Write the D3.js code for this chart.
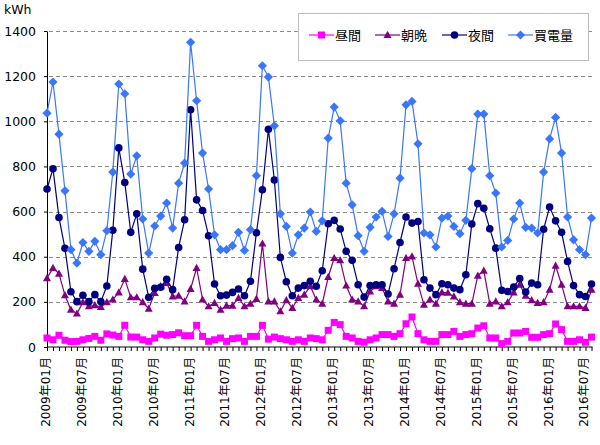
<!DOCTYPE html>
<html><head><meta charset="utf-8">
<script src="https://cdn.jsdelivr.net/npm/d3@7"></script>
<style>body{margin:0;background:#fff}svg{display:block}text{font-family:"DejaVu Sans","Noto Sans CJK JP",sans-serif}</style>
</head><body><svg width="600" height="445"></svg>
<script>
const months = [
"2009年01月","2009年02月","2009年03月","2009年04月","2009年05月","2009年06月","2009年07月","2009年08月","2009年09月","2009年10月","2009年11月","2009年12月",
"2010年01月","2010年02月","2010年03月","2010年04月","2010年05月","2010年06月","2010年07月","2010年08月","2010年09月","2010年10月","2010年11月","2010年12月",
"2011年01月","2011年02月","2011年03月","2011年04月","2011年05月","2011年06月","2011年07月","2011年08月","2011年09月","2011年10月","2011年11月","2011年12月",
"2012年01月","2012年02月","2012年03月","2012年04月","2012年05月","2012年06月","2012年07月","2012年08月","2012年09月","2012年10月","2012年11月","2012年12月",
"2013年01月","2013年02月","2013年03月","2013年04月","2013年05月","2013年06月","2013年07月","2013年08月","2013年09月","2013年10月","2013年11月","2013年12月",
"2014年01月","2014年02月","2014年03月","2014年04月","2014年05月","2014年06月","2014年07月","2014年08月","2014年09月","2014年10月","2014年11月","2014年12月",
"2015年01月","2015年02月","2015年03月","2015年04月","2015年05月","2015年06月","2015年07月","2015年08月","2015年09月","2015年10月","2015年11月","2015年12月",
"2016年01月","2016年02月","2016年03月","2016年04月","2016年05月","2016年06月","2016年07月","2016年08月"];
const tickLabels = ["2009年01月","2009年07月","2010年01月","2010年07月","2011年01月","2011年07月","2012年01月","2012年07月","2013年01月","2013年07月","2014年01月","2014年07月","2015年01月","2015年07月","2016年01月","2016年07月"];
const yTicks = [0,200,400,600,800,1000,1200,1400];
const seriesNames = ["昼間","朝晩","夜間","買電量"];

const daytime = [40,32,52,30,24,25,32,38,47,30,58,53,
47,96,44,44,32,25,40,57,52,55,63,50,
50,96,47,25,32,40,25,37,40,25,47,47,
96,35,44,37,32,25,32,25,40,37,32,74,
109,99,47,40,25,21,32,40,55,55,47,59,
103,133,59,32,25,25,55,55,69,47,55,59,
84,94,40,40,15,25,62,62,69,43,43,55,
59,102,77,25,25,32,21,44];
const morningEvening = [305,350,325,229,165,148,198,180,185,177,198,210,
242,301,220,220,198,170,239,269,283,224,227,202,
257,350,210,180,195,165,183,183,217,180,192,213,
458,202,202,158,207,173,217,232,269,210,192,310,
394,384,272,210,202,180,246,269,261,202,192,232,
394,401,280,187,210,192,242,240,224,198,192,192,
316,338,192,202,180,198,242,276,227,207,195,198,
254,360,276,180,180,180,173,254];
const night = [700,790,574,437,245,201,229,201,232,201,270,517,
882,729,508,590,345,220,260,265,300,254,441,564,
1051,652,605,493,279,227,230,242,257,227,291,506,
697,965,740,397,289,227,261,272,291,269,338,546,
561,523,424,384,276,221,272,276,276,235,347,463,
576,549,556,298,261,232,280,276,261,254,320,545,
635,615,524,438,251,246,266,303,244,283,276,522,
620,559,508,379,272,232,224,279];
const purchased = [1036,1174,943,692,431,372,463,424,468,409,515,775,
1165,1122,766,847,567,416,536,580,638,527,726,815,
1350,1091,859,700,497,431,431,449,508,428,520,759,
1246,1196,980,590,534,416,497,527,598,512,559,925,
1063,1002,726,630,493,424,530,576,601,490,590,748,
1073,1088,900,505,497,443,571,580,534,502,561,790,
1032,1032,759,682,443,472,567,638,530,527,505,775,
922,1017,859,576,475,431,409,571];

const seriesData = [daytime, morningEvening, night, purchased];
const colors = ["#ff00ff","#800080","#000080","#3a76f8"];
const markers = [
  "M-3.5,-3.5H3.5V3.5H-3.5Z",
  "M0,-4.2L4,3L-4,3Z",
  "M0,-3.8A3.8,3.8 0 1,1 0,3.8A3.8,3.8 0 1,1 0,-3.8Z",
  "M0,-4.6L4.6,0L0,4.6L-4.6,0Z"
];

const svg = d3.select("svg");
const L = 47, R = 591.5, T = 31, B = 347, GRID_END = 593;
const x = d3.scalePoint().domain(months).range([L, R]);
const y = d3.scaleLinear().domain([0, 1400]).range([B, T]);

// y axis
const yAxis = svg.append("g").attr("transform", `translate(${L},0)`)
  .call(d3.axisLeft(y).tickValues(yTicks).tickFormat(d3.format("d")).tickSize(3).tickSizeOuter(0).tickPadding(8));
yAxis.select(".domain").attr("stroke", "#000");
yAxis.selectAll(".tick line").attr("stroke", "#000");
yAxis.selectAll("text").attr("font-size", 12.5).attr("fill", "#000")
  .style("font-family", "'DejaVu Sans', sans-serif");

// dashed gridlines: small filled dashes
const dashStarts = d3.range(L + 2, GRID_END, 7);
const gridG = svg.append("g").attr("class", "gridlines");
yTicks.filter(v => v > 0).forEach(v => {
  const yy = Math.round(y(v));
  gridG.selectAll(null).data(dashStarts).join("rect")
    .attr("x", d => d).attr("y", yy)
    .attr("width", d => Math.min(4, GRID_END - d)).attr("height", 1)
    .attr("fill", "#8a8a8a");
});

// x axis
const xAxis = svg.append("g").attr("transform", `translate(0,${B})`)
  .call(d3.axisBottom(x).tickValues(months).tickSize(4).tickSizeOuter(0)
    .tickFormat(d => tickLabels.includes(d) ? d : ""));
xAxis.select(".domain").attr("stroke", "#000").attr("d", `M${L},0H${R + 1}`);
xAxis.selectAll(".tick line").attr("stroke", "#000");
xAxis.selectAll("text").attr("font-size", 12).attr("fill", "#000")
  .attr("transform", "rotate(-90)").attr("x", -10).attr("y", 0).attr("dy", "0.2em")
  .style("text-anchor", "end");

// unit label
svg.append("text").attr("x", 4).attr("y", 14).attr("font-size", 12.5).attr("fill", "#000").text("kWh");

// series
seriesData.forEach((vals, si) => {
  const g = svg.append("g");
  const line = d3.line().x((d, i) => x(months[i])).y(d => y(d));
  g.append("path").datum(vals).attr("d", line).attr("fill", "none")
    .attr("stroke", colors[si]).attr("stroke-width", 1.2);
  g.selectAll("path.m").data(vals).join("path").attr("class", "m")
    .attr("d", markers[si])
    .attr("transform", (d, i) => `translate(${x(months[i])},${y(d)})`)
    .attr("fill", colors[si]);
});

// legend
const lg = svg.append("g");
lg.append("rect").attr("x", 298.5).attr("y", 13.5).attr("width", 290).attr("height", 47)
  .attr("fill", "#fff").attr("stroke", "#bdbdbd");
const legX = [309, 375, 442, 508];
seriesNames.forEach((name, si) => {
  const lx = legX[si], ly = 35;
  lg.append("line").attr("x1", lx).attr("x2", lx + 25).attr("y1", ly).attr("y2", ly)
    .attr("stroke", colors[si]).attr("stroke-width", 1.2);
  lg.append("path").attr("d", markers[si]).attr("transform", `translate(${lx + 12.5},${ly})`)
    .attr("fill", colors[si]);
  lg.append("text").attr("x", lx + 26).attr("y", ly).attr("dy", "0.36em")
    .attr("font-size", 13).attr("fill", "#000").text(name);
});
</script></body></html>
